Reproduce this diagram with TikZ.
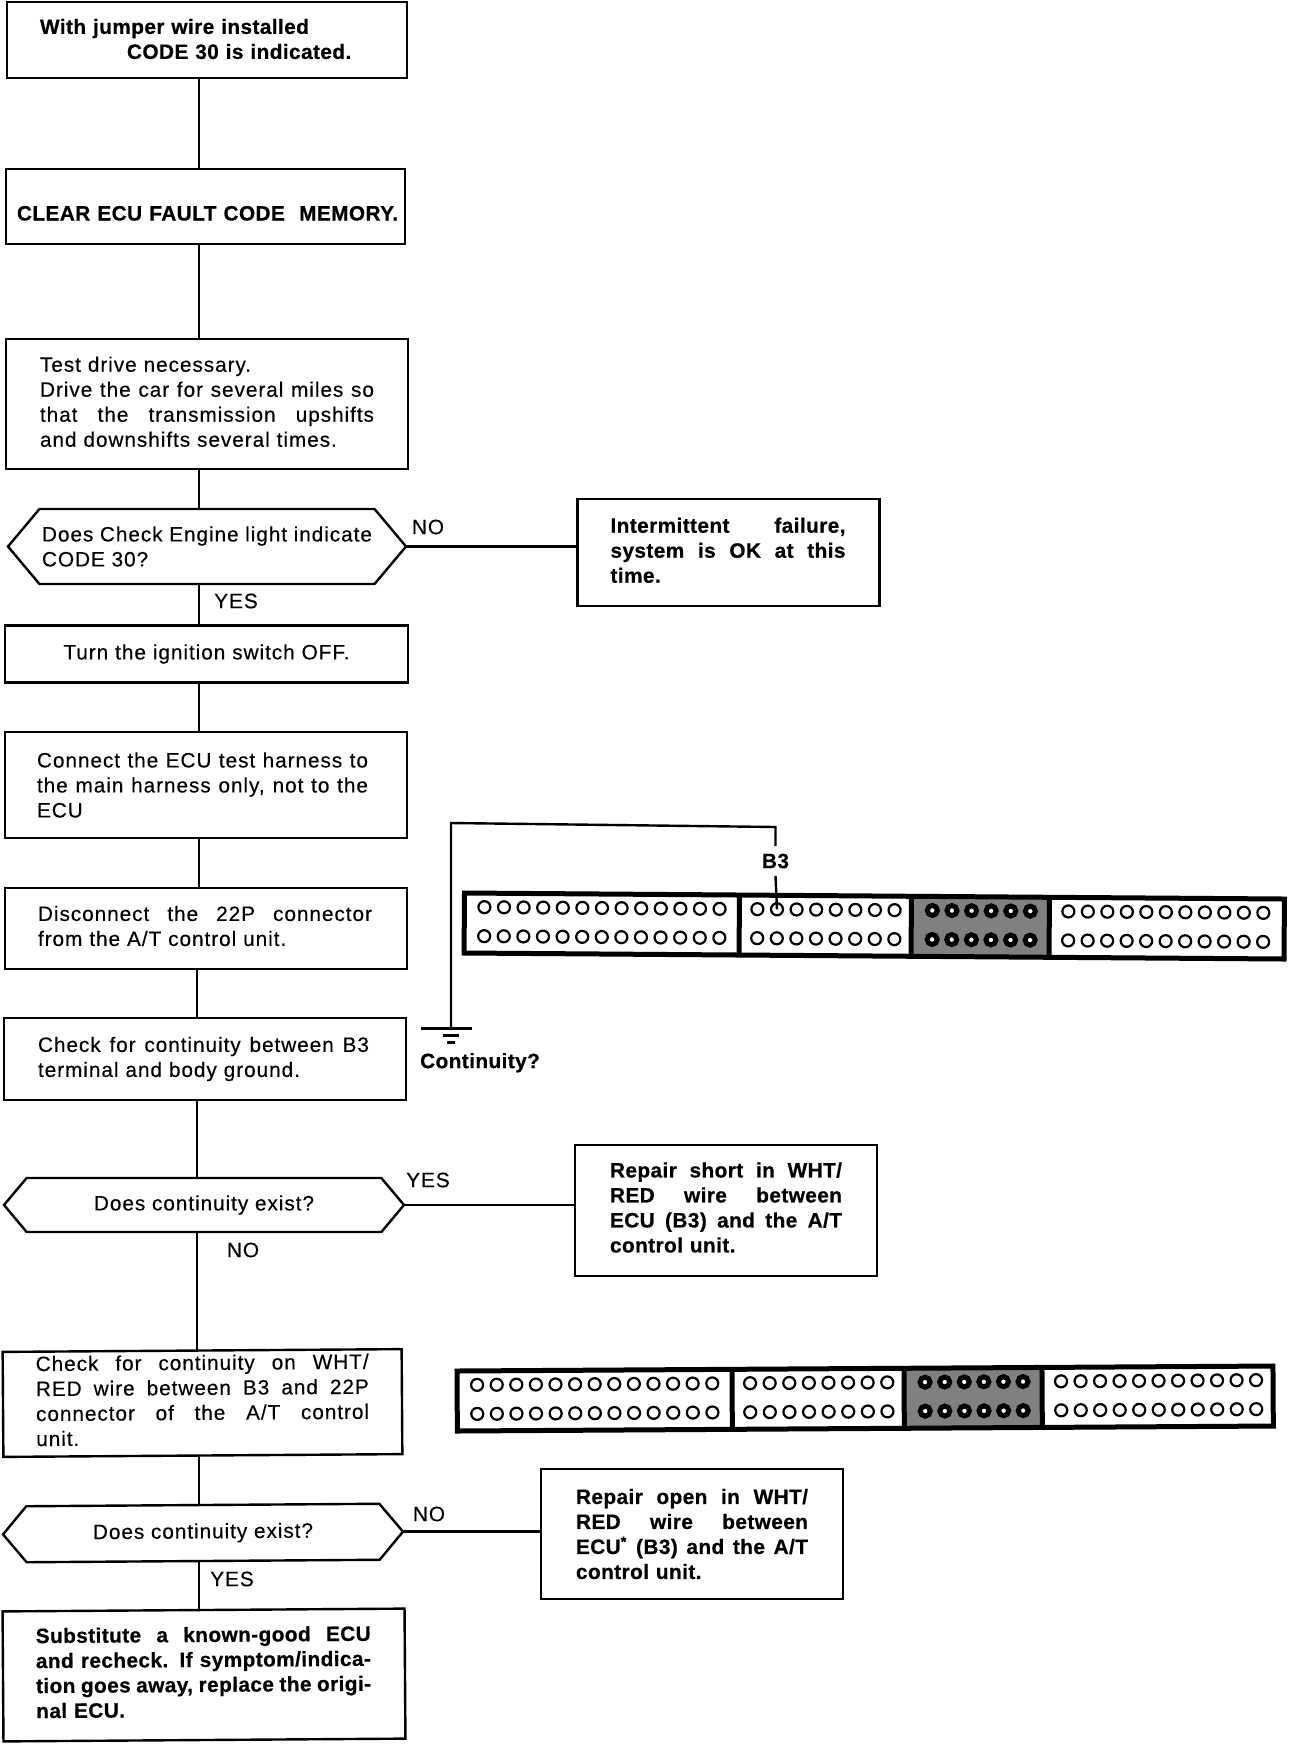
\documentclass[tikz,border=0pt]{standalone}
\usepackage{fontspec}
\setmainfont{Liberation Sans}[LetterSpace=4.5,FakeBold=0.3,BoldFeatures={LetterSpace=2,FakeBold=0.6}]
\usetikzlibrary{shapes.symbols}

\newcommand{\fillline}[2]{\makebox[#1pt][s]{\spaceskip=0pt\relax\xspaceskip=0pt\relax #2}}
\newcommand{\liftup}[1]{\par\nointerlineskip\noindent\rule{0pt}{#1pt}}
\newcommand{\pinblock}[6]{%
  \begin{scope}[shift={#2},rotate=#3]
    \fill[black!50] (#5,0) rectangle (#6,60);
    \draw[blockline] (0,0) rectangle (#4,60);
    \draw[blockline] (275,0) -- (275,60);
    \draw[blockline] (#5,0) -- (#5,60);
    \draw[blockline] (#6,0) -- (#6,60);
    \foreach \r/\ry in {1/14,2/43} {
      \foreach \i in {1,...,13} \node[pinring] (#1-a\r-\i) at ({20+19.6*(\i-1)},\ry) {};
      \foreach \i in {1,...,8} \node[pinring] (#1-b\r-\i) at ({293+19.6*(\i-1)},\ry) {};
      \foreach \i in {1,...,6} \node[pindark] (#1-c\r-\i) at ({468+19.6*(\i-1)},\ry) {};
      \foreach \i in {1,...,11} \node[pinring] (#1-d\r-\i) at ({604+19.5*(\i-1)},\ry) {};
    }
  \end{scope}}

\begin{document}
\begin{tikzpicture}[x=0.5pt, y=-0.5pt,
  every node/.style={font=\fontsize{10.4}{12.5}\selectfont},
  flowbox/.style n args={4}{draw, rectangle, line width=1.2pt, align=left, minimum width=#1pt, text width=#2pt, inner xsep=#3pt, inner ysep=0pt, minimum height=#4pt, outer sep=0pt},
  hexbox/.style n args={3}{draw, signal, signal to=west and east, signal pointer angle=#3, line width=1.2pt, minimum width=#1pt, minimum height=#2pt, inner xsep=0pt, inner ysep=0pt, outer sep=0pt},
  blockline/.style={line width=2.5pt},
  pinring/.style={draw, circle, fill=white, line width=1.1pt, minimum size=6pt, inner sep=0pt},
  pindark/.style={draw, circle, fill=white, line width=2.5pt, minimum size=5pt, inner sep=0pt},
  link/.style={line width=1.2pt},
  answer/.style={inner sep=1pt}]
  \useasboundingbox (0,0) rectangle (1312,1746);

  \node[flowbox={200}{167}{16.5}{38}, font=\fontsize{10.4}{12.5}\selectfont\bfseries] (jumper) at (207,40) {With jumper wire installed\\\hspace*{43.5pt}CODE 30 is indicated.\liftup{1}};
  \node[flowbox={199.5}{193.5}{3}{37.5}, font=\fontsize{10.4}{12.5}\selectfont\bfseries] (clear) at (205.5,206.5) {\raisebox{-7pt}[0pt][0pt]{\hspace*{2.5pt}\fillline{190.5}{CLEAR ECU FAULT CODE\ \ MEMORY.}}};
  \node[flowbox={201}{167}{17}{65}] (drive) at (207,404) {Test drive necessary.\\\fillline{167}{Drive the car for several miles so}\\\fillline{167}{that the transmission upshifts}\\and downshifts several times.\liftup{2.2}};
  \node[hexbox={199}{37.5}{100}] (light) at (207,546.5) {\parbox{165pt}{\fillline{165}{Does Check Engine light indicate}\\CODE 30?}};
  \node[flowbox={201.5}{195.5}{3}{28.5}, align=center] (ignition) at (206.5,654) {Turn the ignition switch OFF.};
  \node[flowbox={201}{169}{16}{53}] (harness) at (206,785) {\fillline{165.5}{Connect the ECU test harness to}\\\fillline{165.5}{the main harness only, not to the}\\ECU};
  \node[flowbox={201}{168}{16.5}{40.5}] (discon) at (206,928.5) {\fillline{167}{Disconnect the 22P connector}\\from the A/T control unit.\liftup{2.5}};
  \node[flowbox={201}{167}{17}{41}] (chkgnd) at (205,1059) {\fillline{165.5}{Check for continuity between B3}\\terminal and body ground.};
  \node[hexbox={200}{27}{100}] (exist) at (204,1205) {Does continuity exist?};
  \node[flowbox={199.5}{166.5}{16.5}{52.5}, rotate=0.4] (chkwire) at (202.5,1403) {\fillline{166.5}{Check for continuity on WHT/}\\\fillline{166.5}{RED wire between B3 and 22P}\\\fillline{166.5}{connector of the A/T control}\\unit.\liftup{3}};
  \node[hexbox={200}{28}{100}, rotate=0.4] (again) at (203,1533) {Does continuity exist?};
  \node[flowbox={201}{168}{16.5}{65}, rotate=0.4, font=\fontsize{10.4}{12.5}\selectfont\bfseries] (subst) at (204,1675) {\fillline{167.5}{Substitute a known-good ECU}\\\fillline{167.5}{and recheck. If symptom/indica-}\\\fillline{167.5}{tion goes away, replace the origi-}\\nal ECU.\liftup{3}};

  \node[flowbox={151}{118}{16}{53.5}, font=\fontsize{10.4}{12.5}\selectfont\bfseries] (okbox) at (728.5,552.5) {\fillline{117.5}{Intermittent failure,}\\\fillline{117.5}{system is OK at this}\\time.\liftup{2.2}};
  \node[flowbox={151}{116}{17.5}{65.5}, font=\fontsize{10.4}{12.5}\selectfont\bfseries] (short) at (726,1210.5) {\fillline{116}{Repair short in WHT/}\\\fillline{116}{RED wire between}\\\fillline{116}{ECU (B3) and the A/T}\\control unit.\liftup{3}};
  \node[flowbox={151}{116}{17.5}{65}, font=\fontsize{10.4}{12.5}\selectfont\bfseries] (open) at (692,1534) {\fillline{116}{Repair open in WHT/}\\\fillline{116}{RED wire between}\\\fillline{116}{ECU\textsuperscript{*} (B3) and the A/T}\\control unit.};

  \coordinate (trunk) at (199,0);
  \coordinate (trunkb) at (197,0);
  \draw[link] (jumper.south -| trunk) -- (clear.north -| trunk);
  \draw[link] (clear.south -| trunk) -- (drive.north -| trunk);
  \draw[link] (drive.south -| trunk) -- (light.north -| trunk);
  \draw[link] (light.south -| trunk) -- (ignition.north -| trunk);
  \draw[link] (ignition.south -| trunk) -- (harness.north -| trunk);
  \draw[link] (harness.south -| trunk) -- (discon.north -| trunk);
  \draw[link] (discon.south -| trunkb) -- (chkgnd.north -| trunkb);
  \draw[link] (chkgnd.south -| trunkb) -- (exist.north -| trunkb);
  \draw[link] (exist.south -| trunkb) -- (chkwire.north -| trunkb);
  \draw[link] (chkwire.south -| trunk) -- (again.north -| trunk);
  \draw[link] (again.south -| trunk) -- (subst.north -| trunk);
  \draw[link] (light.east) -- (okbox.west |- light.east);
  \draw[link] (exist.east) -- (short.west |- exist.east);
  \draw[link] (again.east) -- (open.west |- again.east);

  \node[answer] (lightno) at (428,527) {NO};
  \node[answer] (lightyes) at (236,601) {YES};
  \node[answer] (existyes) at (428,1180) {YES};
  \node[answer] (existno) at (243,1250) {NO};
  \node[answer] (againno) at (429,1514) {NO};
  \node[answer] (againyes) at (232,1579) {YES};

  \pinblock{top}{(464.5,893)}{-0.42}{820}{447}{585}
  \pinblock{low}{(457,1371)}{0.35}{816}{447}{585}

  \node[font=\fontsize{10.4}{12.5}\selectfont\bfseries, minimum height=14.5pt, inner sep=0pt] (bthree) at (775.5,861) {B3};
  \coordinate (wirebend) at (775.5,827);
  \coordinate (wirecorner) at (451,823);
  \coordinate (ground) at (451,1028);
  \draw[link] (top-b1-2.center) -- (bthree.south);
  \draw[link] (bthree.north) -- (wirebend) -- (wirecorner) -- (ground);
  \draw[line width=1.5pt] ([xshift=-15pt]ground) -- ([xshift=10.5pt]ground);
  \draw[line width=1.5pt] ([xshift=-4pt,yshift=-3.5pt]ground) -- ([xshift=4pt,yshift=-3.5pt]ground);
  \draw[line width=1.5pt] ([xshift=-2pt,yshift=-7pt]ground) -- ([xshift=2pt,yshift=-7pt]ground);
  \node[font=\fontsize{10.4}{12.5}\selectfont\bfseries, below=1pt] (contq) at (480,1044) {Continuity?};
\end{tikzpicture}
\end{document}
